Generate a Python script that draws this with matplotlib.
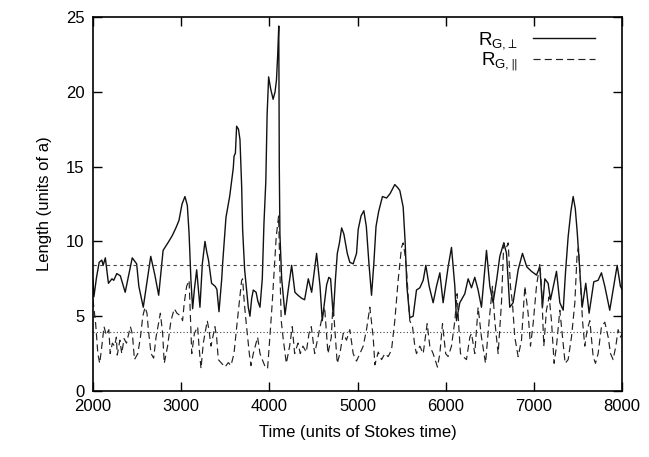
import matplotlib
matplotlib.use("Agg")
import matplotlib.pyplot as plt

plt.rcParams['font.family'] = ['Liberation Sans', 'DejaVu Sans']
plt.rcParams['mathtext.fontset'] = 'custom'
plt.rcParams['mathtext.rm'] = 'Liberation Sans'
plt.rcParams['mathtext.it'] = 'Liberation Sans'

# R_G,perp (solid)
perp_t = [2000, 2010, 2040, 2070, 2100, 2115, 2140, 2175, 2215, 2235, 2270, 2310, 2365,
          2445, 2495, 2520, 2570, 2655, 2700, 2745, 2795, 2860, 2900, 2940, 2975, 3010,
          3043, 3070, 3090, 3110, 3130, 3150, 3176, 3195, 3213, 3240, 3270, 3290, 3310,
          3345, 3385, 3405, 3429, 3460, 3470, 3490, 3508, 3550, 3591, 3600, 3615, 3629,
          3650, 3667, 3686, 3697, 3720, 3761, 3780, 3800, 3818, 3850, 3870, 3894, 3920,
          3939, 3960, 3975, 3992, 4015, 4043, 4065, 4081, 4095, 4107, 4113, 4120, 4140,
          4178, 4215, 4253, 4290, 4325, 4366, 4400, 4442, 4480, 4536, 4575, 4600, 4650,
          4675, 4695, 4725, 4750, 4771, 4795, 4820, 4845, 4884, 4913, 4951, 4989, 5008,
          5040, 5072, 5100, 5130, 5159, 5185, 5210, 5240, 5283, 5330, 5370, 5423, 5455,
          5480, 5518, 5540, 5560, 5593, 5631, 5669, 5707, 5745, 5775, 5813, 5858, 5896,
          5934, 5971, 6028, 6066, 6090, 6104, 6123, 6160, 6217, 6255, 6293, 6330, 6368,
          6406, 6463, 6501, 6538, 6580, 6614, 6659, 6690, 6727, 6765, 6822, 6871, 6920,
          6973, 7030, 7068, 7098, 7125, 7162, 7189, 7257, 7295, 7333, 7360, 7389, 7420,
          7446, 7470, 7491, 7521, 7548, 7589, 7627, 7680, 7729, 7767, 7805, 7861, 7899,
          7945, 7982, 8000]
perp_v = [7.4, 6.3, 7.6, 8.6, 8.75, 8.4, 8.9, 7.2, 7.5, 7.4, 7.85, 7.7, 6.6,
          8.9, 8.5, 7.0, 5.6, 9.0, 7.8, 6.4, 9.4, 10.0, 10.4, 10.9, 11.4, 12.5,
          13.0, 12.4, 10.5, 7.5, 5.5, 6.8, 8.1, 6.8, 5.6, 8.5, 10.0, 9.3, 8.75,
          7.2, 7.0, 6.8, 5.3, 7.5, 8.5, 10.1, 11.6, 13.0, 14.9, 15.7, 15.9, 17.7,
          17.5, 16.8, 13.7, 10.8, 8.1, 5.6, 5.0, 6.2, 6.75, 6.6, 6.0, 5.6, 7.5,
          11.2, 14.0, 18.5, 21.0, 20.2, 19.5, 20.0, 20.8, 22.5, 24.4, 15.0, 10.5, 7.5,
          5.1, 6.8, 8.4, 6.6, 6.4, 6.2, 6.1, 7.5, 6.6, 9.2, 7.0, 4.7, 7.1,
          7.6, 7.5, 5.0, 7.5, 9.2, 9.9, 10.9, 10.5, 9.2, 8.6, 8.5, 9.2, 10.8,
          11.7, 12.05, 11.0, 8.5, 6.4, 8.5, 11.0, 12.0, 13.0, 12.9, 13.2, 13.8, 13.6,
          13.4, 12.3, 10.0, 7.0, 4.9, 5.0, 6.75, 6.9, 7.4, 8.4, 7.0, 5.9, 7.0,
          7.9, 5.9, 8.3, 9.6, 8.0, 7.0, 4.7, 5.9, 6.5, 7.5, 6.9, 7.6, 6.75,
          5.6, 9.4, 7.0, 5.9, 7.5, 9.0, 9.9, 9.2, 5.6, 5.9, 8.1, 9.2, 8.3,
          8.0, 7.75, 8.3, 5.6, 7.5, 7.2, 6.1, 8.0, 5.9, 5.4, 8.0, 10.3, 12.0,
          13.0, 12.2, 10.7, 8.1, 5.6, 7.2, 5.2, 7.3, 7.4, 7.9, 7.0, 5.4, 6.75,
          8.4, 7.0, 6.8]

# R_G,par (dashed)
par_t = [2000, 2030, 2055, 2076, 2100, 2125, 2150, 2180, 2195, 2220, 2245, 2265, 2275,
         2305, 2326, 2352, 2380, 2424, 2447, 2470, 2508, 2538, 2565, 2590, 2612, 2628,
         2658, 2688, 2715, 2764, 2790, 2808, 2846, 2884, 2922, 2952, 2997, 3016, 3035,
         3062, 3090, 3120, 3150, 3187, 3202, 3225, 3251, 3296, 3315, 3338, 3383, 3402,
         3421, 3459, 3497, 3535, 3565, 3599, 3637, 3686, 3697, 3716, 3735, 3773, 3792,
         3818, 3867, 3894, 3920, 3954, 3980, 4006, 4033, 4055, 4078, 4105, 4120, 4135,
         4155, 4193, 4230, 4260, 4287, 4325, 4351, 4381, 4419, 4450, 4476, 4514, 4552,
         4590, 4627, 4665, 4703, 4722, 4770, 4800, 4838, 4875, 4913, 4951, 4989, 5027,
         5065, 5102, 5140, 5178, 5197, 5235, 5273, 5310, 5348, 5386, 5423, 5461, 5499,
         5518, 5537, 5556, 5593, 5624, 5650, 5669, 5707, 5745, 5790, 5820, 5858, 5907,
         5934, 5964, 6000, 6028, 6066, 6104, 6130, 6149, 6168, 6198, 6236, 6274, 6293,
         6330, 6368, 6406, 6452, 6493, 6531, 6557, 6595, 6633, 6659, 6690, 6709, 6735,
         6757, 6784, 6822, 6860, 6898, 6935, 6962, 6992, 7030, 7068, 7087, 7113, 7143,
         7174, 7200, 7230, 7257, 7295, 7325, 7355, 7389, 7427, 7465, 7491, 7506, 7521,
         7552, 7578, 7605, 7635, 7673, 7699, 7729, 7767, 7805, 7843, 7870, 7899, 7930,
         7956, 7982, 8000]
par_v = [6.1, 4.5, 2.5, 1.85, 3.0, 4.3, 3.75, 4.1, 2.5, 3.2, 3.0, 3.6, 2.4,
         3.4, 2.5, 3.5, 3.2, 4.3, 3.8, 2.1, 2.5, 3.6, 5.0, 5.6, 5.2, 4.1,
         2.5, 2.2, 3.6, 5.2, 3.85, 1.85, 3.0, 4.7, 5.5, 5.2, 5.0, 4.7, 5.9,
         7.0, 7.4, 2.5, 3.85, 4.3, 3.0, 1.5, 3.2, 4.7, 4.1, 3.0, 4.3, 3.6,
         2.1, 1.85, 1.6, 1.9, 1.7, 2.5, 4.7, 7.4, 7.5, 5.9, 4.7, 2.5, 1.7,
         2.5, 3.6, 2.5, 2.1, 1.6, 1.5, 3.6, 5.9, 8.1, 10.3, 11.7, 8.0, 4.7,
         3.6, 1.85, 3.0, 4.3, 2.5, 3.2, 2.5, 3.0, 2.6, 3.85, 4.3, 2.5, 3.6,
         4.7, 5.6, 2.5, 3.6, 5.9, 1.85, 2.5, 3.85, 3.4, 4.1, 2.5, 2.0, 2.5,
         3.0, 4.1, 5.6, 3.6, 1.75, 2.6, 2.1, 2.5, 2.3, 2.75, 4.7, 7.4, 9.6,
         9.9, 9.2, 8.1, 4.7, 4.3, 3.0, 2.5, 3.0, 2.5, 4.5, 3.0, 2.5, 1.6,
         2.5, 4.5, 2.5, 2.3, 3.0, 4.7, 6.5, 4.3, 2.5, 2.3, 2.1, 3.6, 3.85,
         2.5, 5.6, 3.6, 1.85, 4.7, 7.0, 4.7, 2.5, 5.9, 9.9, 9.6, 9.9, 7.0,
         5.9, 3.6, 2.3, 3.4, 7.0, 5.2, 3.0, 4.5, 7.0, 8.5, 7.0, 3.0, 5.4,
         6.3, 4.7, 1.85, 3.0, 5.4, 3.6, 1.85, 2.1, 3.6, 5.9, 9.2, 9.6, 8.1,
         4.7, 3.0, 4.1, 4.7, 2.3, 1.85, 2.5, 4.3, 4.6, 3.6, 2.5, 2.1, 3.0,
         4.1, 3.6, 3.8]

perp_mean = 8.45
par_mean = 3.92

fig = plt.figure(figsize=(6.49, 4.57), dpi=100)
ax = fig.add_axes([0.1433, 0.1444, 0.8151, 0.8184])

ax.plot(perp_t, perp_v, color='#111111', lw=1.0, label=r'$\mathregular{R_{G{,}\perp}}$')
ax.plot(par_t, par_v, color='#222222', lw=0.85, dashes=(6, 3.5), label=r'$\mathregular{R_{G{,}\parallel}}$')
ax.axhline(perp_mean, color='#444444', lw=0.8, dashes=(3, 3))
ax.axhline(par_mean, color='#444444', lw=0.8, dashes=(1, 2))

ax.set_xlim(2000, 8000)
ax.set_ylim(0, 25)
ax.set_xticks(range(2000, 8001, 1000))
ax.set_yticks(range(0, 26, 5))
ax.tick_params(direction='in', length=6.5, width=1, top=True, right=True,
               labelsize=12, pad=6)
for s in ax.spines.values():
    s.set_linewidth(1.2)

ax.set_xlabel("Time (units of Stokes time)", fontsize=12, labelpad=8)
ax.set_ylabel("Length (units of a)", fontsize=12, labelpad=10)

ax.legend(loc='upper right', bbox_to_anchor=(0.974, 1.0), frameon=False,
          markerfirst=False, fontsize=13.5, handlelength=3.3, labelspacing=0.0,
          borderaxespad=0.3, handletextpad=0.8)

fig.savefig("out.png", dpi=100)
